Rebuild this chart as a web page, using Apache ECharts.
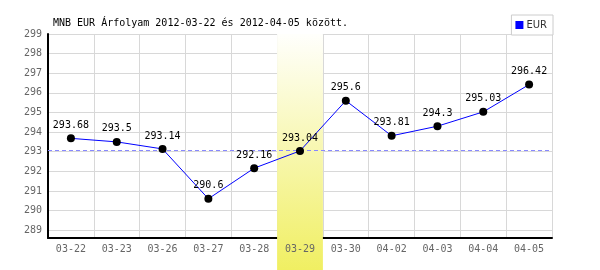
<!DOCTYPE html>
<html><head><meta charset="utf-8">
<script src="https://cdn.jsdelivr.net/npm/echarts@6/dist/echarts.min.js"></script>
<style>html,body{margin:0;padding:0;background:#fff}#c{width:600px;height:270px}</style>
</head><body><div id="c"></div>
<script>
const categories = ['03-22','03-23','03-26','03-27','03-28','03-29','03-30','04-02','04-03','04-04','04-05'];
const eurValues = [293.68,293.5,293.14,290.6,292.16,293.04,295.6,293.81,294.3,295.03,296.42];
const yTicks = [289,290,291,292,293,294,295,296,297,298,299];
const yMin = 288.6, yMax = 299;
const refLine = 293.05;
const highlightCat = '03-29';
const titleText = 'MNB EUR Árfolyam 2012-03-22 és 2012-04-05 között.';

const mono = '"DejaVu Sans Mono", "Liberation Mono", monospace';
const chart = echarts.init(document.getElementById('c'), null, {renderer:'canvas'});
const option = {
  animation: false,
  title: {text: titleText, left: 48, top: 13, textStyle: {fontFamily: mono, fontSize: 10, fontWeight: 'normal', color: '#000'}},
  legend: {data: ['EUR'], right: 47, top: 15, padding: [5,6,5,4], itemWidth: 8, itemHeight: 8, itemGap: 2,
    borderColor: '#ccc', borderWidth: 1, backgroundColor: '#fff', icon: 'rect',
    textStyle: {fontFamily: 'DejaVu Sans', fontSize: 10, color: '#333', padding: [0,0,0,-2]}},
  grid: {left: 48, right: 48, top: 34, bottom: 32, containLabel: false},
  xAxis: [
    {type: 'category', data: categories, boundaryGap: true, z: 0,
      axisLine: {show: true, lineStyle: {color: '#000', width: 2}},
      axisTick: {show: false}, axisLabel: {show: false},
      splitLine: {show: true, interval: 0, lineStyle: {color: '#d8d8d8', width: 1}}},
    {type: 'category', data: categories, boundaryGap: true, position: 'bottom', z: 5,
      axisLine: {show: false}, axisTick: {show: false}, splitLine: {show: false},
      axisLabel: {show: true, interval: 0, margin: 6, fontFamily: mono, fontSize: 10, color: '#666'}}
  ],
  yAxis: {type: 'value', min: yMin, max: yMax, z: 0,
    axisLine: {show: true, lineStyle: {color: '#000', width: 2}},
    axisTick: {show: false, customValues: yTicks},
    axisLabel: {customValues: yTicks, margin: 6, fontFamily: mono, fontSize: 10, color: '#666'},
    splitLine: {show: true, lineStyle: {color: '#d8d8d8', width: 1}}},
  series: [{
    name: 'EUR', type: 'line', data: eurValues, xAxisIndex: 0, z: 3,
    lineStyle: {color: '#0000ff', width: 1}, itemStyle: {color: '#0000ff'},
    symbol: 'circle', symbolSize: 8,
    label: {show: true, position: 'top', distance: 4, fontFamily: mono, fontSize: 10, color: '#000'},
    markLine: {silent: true, symbol: 'none', label: {show: false}, z: 3,
      lineStyle: {color: '#8888ff', type: [4,3], width: 1}, data: [{yAxis: refLine}]}
  }]
};
chart.setOption(option);
// black dots on top of blue line
chart.setOption({series: [{data: eurValues.map(v => ({value: v, itemStyle: {color: '#000'}}))}]});

const cx = chart.convertToPixel({xAxisIndex: 0}, highlightCat);
const x0 = chart.convertToPixel({xAxisIndex: 0}, categories[0]);
const x1 = chart.convertToPixel({xAxisIndex: 0}, categories[1]);
const bw = x1 - x0;
const topY = chart.convertToPixel({yAxisIndex: 0}, yMax);
chart.setOption({graphic: [{type: 'rect', z: 1, silent: true,
  shape: {x: cx - bw/2, y: topY, width: bw, height: 270 - topY},
  style: {fill: new echarts.graphic.LinearGradient(0,0,0,1,[{offset:0,color:'#fffffc'},{offset:1,color:'#f0ef62'}])}}]});
</script></body></html>
